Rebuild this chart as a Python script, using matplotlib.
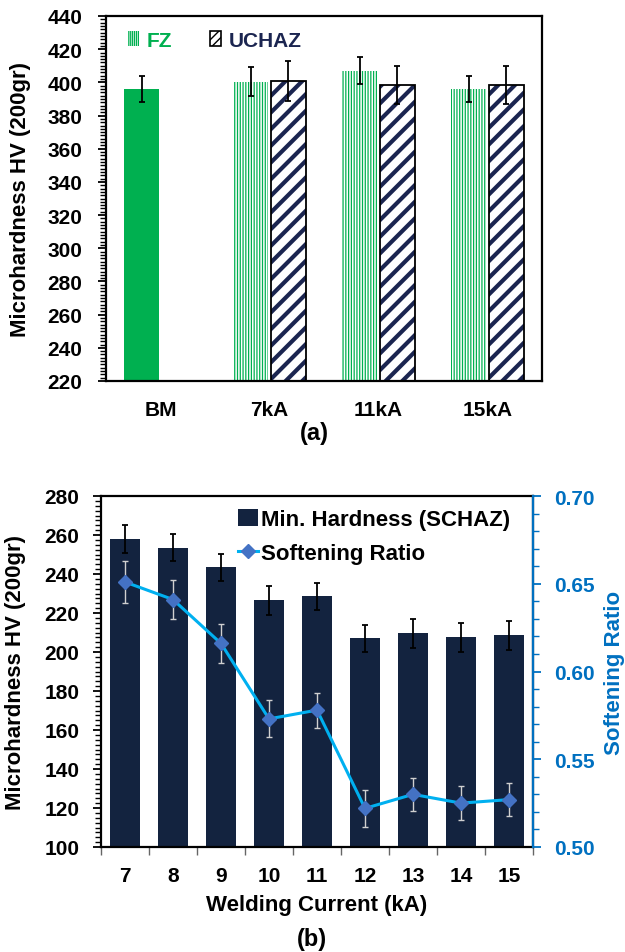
import matplotlib
matplotlib.use('Agg')
import matplotlib.pyplot as plt
import numpy as np
from matplotlib.ticker import AutoMinorLocator, MultipleLocator, FixedLocator, FormatStrFormatter
from matplotlib.patches import Patch
from matplotlib.lines import Line2D

plt.rcParams['font.family'] = ['Liberation Sans', 'DejaVu Sans']
plt.rcParams['font.weight'] = 'bold'
plt.rcParams['axes.labelweight'] = 'bold'

# ---------------- data (a) ----------------
groups = ['BM', '7kA', '11kA', '15kA']
fz_vals = [396, 400.5, 407, 396]
fz_err = [8, 8.5, 8, 8]
uchaz_groups = ['7kA', '11kA', '15kA']
uchaz_vals = [401, 398.5, 398.5]
uchaz_err = [12, 11.5, 11.5]

# ---------------- data (b) ----------------
currents = [7, 8, 9, 10, 11, 12, 13, 14, 15]
min_hardness = [258, 253.5, 243.5, 226.5, 228.5, 207, 209.5, 207.5, 208.5]
hardness_err = [7, 7, 7, 7.5, 7, 7, 7.5, 7.5, 7.5]
soft_ratio = [0.651, 0.641, 0.616, 0.573, 0.578, 0.522, 0.530, 0.525, 0.527]
ratio_err = [0.012, 0.011, 0.011, 0.0105, 0.010, 0.0105, 0.0095, 0.0095, 0.0095]

GREEN = '#00B050'
NAVY_H = '#1B2550'
NAVY = '#13233F'
LBLUE = '#00B0F0'
MBLUE = '#4472C4'
ABLUE = '#0070C0'

TICK = 15
LAB = 16

W, H = 625, 953
fig = plt.figure(figsize=(W / 100, H / 100), dpi=100)

# ================= (a) =================
L1, R1, T1, B1 = 106, 542, 17, 382
ax1 = fig.add_axes([L1 / W, 1 - B1 / H, (R1 - L1) / W, (B1 - T1) / H])
x = np.arange(len(groups))
off, bw = 0.174, 0.32
ux = np.array([groups.index(g) for g in uchaz_groups])

ax1.bar(x[0] - off, fz_vals[0], bw, color=GREEN, linewidth=0, zorder=2)
fzb = ax1.bar(x[1:] - off, fz_vals[1:], bw, facecolor='white', edgecolor=GREEN,
              hatch='||||||', linewidth=0, zorder=2)
ub = ax1.bar(ux + off, uchaz_vals, bw, facecolor='white', edgecolor=NAVY_H,
             hatch='//', linewidth=0, zorder=2)
for p in fzb:
    try:
        p.set_hatch_linewidth(0.9)
    except AttributeError:
        pass
for p in ub:
    try:
        p.set_hatch_linewidth(3.0)
    except AttributeError:
        pass
ax1.bar(ux + off, uchaz_vals, bw, fill=False, edgecolor='black', linewidth=1.3, zorder=3)
ax1.errorbar(x - off, fz_vals, yerr=fz_err, fmt='none', ecolor='black',
             elinewidth=1.3, capsize=2, capthick=1.3, zorder=4)
ax1.errorbar(ux + off, uchaz_vals, yerr=uchaz_err, fmt='none', ecolor='black',
             elinewidth=1.3, capsize=2, capthick=1.3, zorder=4)

ax1.set_xlim(-0.5, len(groups) - 0.5)
ax1.set_ylim(220, 440)
ax1.yaxis.set_major_locator(MultipleLocator(20))
ax1.yaxis.set_minor_locator(AutoMinorLocator(10))
ax1.set_xticks(x)
ax1.set_xticklabels(groups, fontsize=TICK, fontweight='bold')
ax1.tick_params(axis='x', length=0, pad=14)
ax1.tick_params(axis='y', which='major', length=6, width=1.3, labelsize=TICK, pad=11)
ax1.tick_params(axis='y', which='minor', length=4, width=1.0)
for t in ax1.get_yticklabels():
    t.set_fontweight('bold')
for s in ax1.spines.values():
    s.set_linewidth(1.6)
ax1.set_ylabel('Microhardness HV (200gr)', fontsize=LAB, fontweight='bold')
ax1.yaxis.set_label_coords((31 - L1) / (R1 - L1), 0.5)

h_fz = Patch(facecolor='white', edgecolor=GREEN, hatch='||||||||', linewidth=0)
h_uc = Patch(facecolor='white', edgecolor='black', hatch='////', linewidth=1.2)
leg1 = ax1.legend([h_fz, h_uc], ['FZ', 'UCHAZ'], loc='upper left', ncol=2, frameon=False,
                  fontsize=15, handlelength=0.55, handleheight=0.75, handletextpad=0.35,
                  columnspacing=1.8, borderaxespad=0, borderpad=0,
                  bbox_to_anchor=((128 - L1) / (R1 - L1), (B1 - 32) / (B1 - T1)))
for t, c in zip(leg1.get_texts(), [GREEN, NAVY_H]):
    t.set_color(c)
    t.set_fontweight('bold')

fig.text(314 / W, 1 - 434 / H, '(a)', ha='center', va='center', fontsize=17,
         fontweight='bold')

# ================= (b) =================
L2, R2, T2, B2 = 101, 533, 497, 848
ax2 = fig.add_axes([L2 / W, 1 - B2 / H, (R2 - L2) / W, (B2 - T2) / H])
ax2.bar(currents, min_hardness, 0.64, color=NAVY, zorder=2)
ax2.errorbar(currents, min_hardness, yerr=hardness_err, fmt='none', ecolor='black',
             elinewidth=1.3, capsize=2, capthick=1.3, zorder=3)
ax2.set_xlim(6.5, 15.5)
ax2.set_ylim(100, 280)
ax2.yaxis.set_major_locator(MultipleLocator(20))
ax2.yaxis.set_minor_locator(AutoMinorLocator(8))
ax2.set_xticks(currents)
ax2.set_xticklabels([str(c) for c in currents], fontsize=TICK, fontweight='bold')
ax2.xaxis.set_minor_locator(FixedLocator(np.arange(6.5, 15.6, 1.0)))
ax2.tick_params(axis='x', which='major', length=0, pad=14)
ax2.tick_params(axis='x', which='minor', length=6, width=1.0, color='#666666')
ax2.tick_params(axis='y', which='major', length=6, width=1.3, labelsize=TICK, pad=9.5)
ax2.tick_params(axis='y', which='minor', length=4, width=1.0)
for t in ax2.get_yticklabels():
    t.set_fontweight('bold')
for s in ax2.spines.values():
    s.set_linewidth(1.6)
ax2.set_ylabel('Microhardness HV (200gr)', fontsize=LAB, fontweight='bold')
ax2.yaxis.set_label_coords((26 - L2) / (R2 - L2), 0.5)
ax2.set_xlabel('Welding Current (kA)', fontsize=LAB, fontweight='bold')
ax2.xaxis.set_label_coords(0.5, (B2 - 895) / (B2 - T2))

ax3 = ax2.twinx()
ax3.errorbar(currents, soft_ratio, yerr=ratio_err, color=LBLUE, linewidth=2.2,
             marker='D', markersize=7.5, markerfacecolor=MBLUE, markeredgecolor=MBLUE,
             ecolor='#D0D0D0', elinewidth=1.0, capsize=2.5, capthick=1.0, zorder=3)
ax3.set_ylim(0.50, 0.70)
ax3.yaxis.set_major_locator(MultipleLocator(0.05))
ax3.yaxis.set_minor_locator(AutoMinorLocator(5))
ax3.yaxis.set_major_formatter(FormatStrFormatter('%.2f'))
ax3.tick_params(axis='y', which='major', length=6, width=1.3, colors=ABLUE,
                labelsize=TICK, pad=9.5)
ax3.tick_params(axis='y', which='minor', length=4, width=1.0, colors=ABLUE)
for t in ax3.get_yticklabels():
    t.set_fontweight('bold')
ax3.spines['right'].set_color(ABLUE)
ax3.spines['right'].set_linewidth(1.6)
for k in ['left', 'top', 'bottom']:
    ax3.spines[k].set_visible(False)
ax3.set_ylabel('Softening Ratio', fontsize=LAB, fontweight='bold', color=ABLUE,
               rotation=90)
ax3.yaxis.set_label_coords((604 - L2) / (R2 - L2), 0.5)

h_bar = Patch(facecolor=NAVY, edgecolor='none')
h_line = Line2D([], [], color=LBLUE, linewidth=2.2, marker='D', markersize=7.5,
                markerfacecolor=MBLUE, markeredgecolor=MBLUE)
ax3.legend([h_bar, h_line], ['Min. Hardness (SCHAZ)', 'Softening Ratio'],
           loc='upper left', frameon=False, handlelength=0.9,
           handleheight=0.8, handletextpad=0.15, labelspacing=0.55,
           borderaxespad=0, borderpad=0,
           bbox_to_anchor=((238 - L2) / (R2 - L2), (B2 - 510) / (B2 - T2)),
           prop={'weight': 'bold', 'size': 16})

fig.text(312 / W, 1 - 940 / H, '(b)', ha='center', va='center', fontsize=17,
         fontweight='bold')

fig.savefig('out.png', dpi=100)
